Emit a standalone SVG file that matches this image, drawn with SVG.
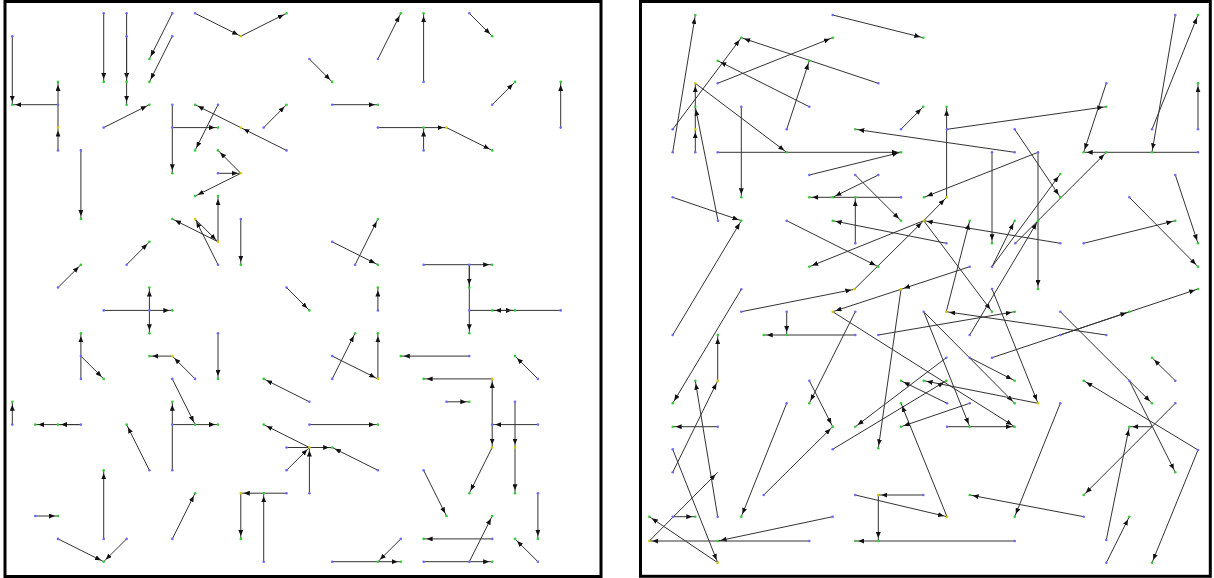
<svg xmlns="http://www.w3.org/2000/svg" width="1214" height="578" viewBox="0 0 1214 578">
<defs>
<marker id="a" viewBox="0 0 6 5" refX="9" refY="2.5" markerWidth="6" markerHeight="5" markerUnits="userSpaceOnUse" orient="auto"><path d="M0,0 L6,2.5 L0,5 z" fill="#111"/></marker>
<style>
.e{stroke:#333;stroke-width:1;fill:none;marker-end:url(#a)}
.p{stroke:#333;stroke-width:1;fill:none}
.b{fill:#6b6bff}.g{fill:#33cc33}.y{fill:#d8c800}
.frame{fill:#fff;stroke:#000;stroke-width:3}
</style>
</defs>
<rect width="1214" height="578" fill="#fff"/>
<rect id="panel-left" class="frame" x="5" y="1.5" width="596" height="575"/>
<rect id="panel-right" class="frame" x="640.5" y="1.5" width="569.8" height="574.8"/>
<g id="connectors-left">
<line class="e" x1="12.3" y1="36.2" x2="12.3" y2="104.7"/>
<line class="e" x1="58" y1="104.7" x2="12.3" y2="104.7"/>
<line class="e" x1="58" y1="104.7" x2="58" y2="81.9"/>
<line class="e" x1="58" y1="150.4" x2="58" y2="127.6"/>
<line class="p" x1="58" y1="127.6" x2="58" y2="104.7"/>
<line class="e" x1="103.7" y1="13.3" x2="103.7" y2="81.9"/>
<line class="e" x1="126.6" y1="13.3" x2="126.6" y2="81.9"/>
<line class="e" x1="126.6" y1="36.2" x2="126.6" y2="104.7"/>
<line class="e" x1="172.3" y1="13.3" x2="149.4" y2="59"/>
<line class="e" x1="172.3" y1="36.2" x2="149.4" y2="81.9"/>
<line class="e" x1="195.1" y1="13.3" x2="240.8" y2="36.2"/>
<line class="e" x1="240.8" y1="36.2" x2="286.5" y2="13.3"/>
<line class="e" x1="103.7" y1="127.6" x2="149.4" y2="104.7"/>
<line class="e" x1="172.3" y1="104.7" x2="172.3" y2="173.3"/>
<line class="e" x1="172.3" y1="127.6" x2="218" y2="127.6"/>
<line class="e" x1="218" y1="104.7" x2="195.1" y2="150.4"/>
<line class="e" x1="286.5" y1="150.4" x2="240.8" y2="127.6"/>
<line class="e" x1="240.8" y1="127.6" x2="195.1" y2="104.7"/>
<line class="e" x1="263.7" y1="127.6" x2="286.5" y2="104.7"/>
<line class="e" x1="218" y1="173.3" x2="240.8" y2="173.3"/>
<line class="e" x1="240.8" y1="173.3" x2="218" y2="150.4"/>
<line class="e" x1="240.8" y1="173.3" x2="195.1" y2="196.1"/>
<line class="e" x1="80.9" y1="150.4" x2="80.9" y2="219"/>
<line class="e" x1="309.4" y1="59" x2="332.2" y2="81.9"/>
<line class="e" x1="377.9" y1="59" x2="400.8" y2="13.3"/>
<line class="e" x1="423.6" y1="81.9" x2="423.6" y2="13.3"/>
<line class="e" x1="469.3" y1="13.3" x2="492.2" y2="36.2"/>
<line class="e" x1="332.2" y1="104.7" x2="377.9" y2="104.7"/>
<line class="e" x1="492.2" y1="104.7" x2="515" y2="81.9"/>
<line class="e" x1="560.7" y1="127.6" x2="560.7" y2="81.9"/>
<line class="e" x1="377.9" y1="127.6" x2="446.5" y2="127.6"/>
<line class="e" x1="423.6" y1="150.4" x2="423.6" y2="127.6"/>
<line class="e" x1="446.5" y1="127.6" x2="492.2" y2="150.4"/>
<line class="e" x1="218" y1="264.7" x2="195.1" y2="219"/>
<line class="e" x1="218" y1="241.8" x2="218" y2="196.1"/>
<line class="e" x1="218" y1="241.8" x2="172.3" y2="219"/>
<line class="e" x1="195.1" y1="219" x2="218" y2="241.8"/>
<line class="e" x1="240.8" y1="219" x2="240.8" y2="264.7"/>
<line class="e" x1="126.6" y1="264.7" x2="149.4" y2="241.8"/>
<line class="e" x1="58" y1="287.5" x2="80.9" y2="264.7"/>
<line class="e" x1="103.7" y1="310.4" x2="172.3" y2="310.4"/>
<line class="e" x1="149.4" y1="310.4" x2="149.4" y2="287.5"/>
<line class="e" x1="149.4" y1="310.4" x2="149.4" y2="333.2"/>
<line class="e" x1="286.5" y1="287.5" x2="309.4" y2="310.4"/>
<line class="e" x1="80.9" y1="378.9" x2="80.9" y2="333.2"/>
<line class="e" x1="80.9" y1="356.1" x2="103.7" y2="378.9"/>
<line class="e" x1="195.1" y1="378.9" x2="172.3" y2="356.1"/>
<line class="e" x1="172.3" y1="356.1" x2="149.4" y2="356.1"/>
<line class="e" x1="218" y1="333.2" x2="218" y2="378.9"/>
<line class="e" x1="172.3" y1="378.9" x2="195.1" y2="424.6"/>
<line class="e" x1="309.4" y1="401.8" x2="263.7" y2="378.9"/>
<line class="e" x1="355.1" y1="264.7" x2="377.9" y2="219"/>
<line class="e" x1="332.2" y1="241.8" x2="377.9" y2="264.7"/>
<line class="e" x1="377.9" y1="310.4" x2="377.9" y2="287.5"/>
<line class="e" x1="423.6" y1="264.7" x2="492.2" y2="264.7"/>
<line class="e" x1="469.3" y1="264.7" x2="469.3" y2="333.2"/>
<line class="e" x1="469.3" y1="264.7" x2="469.3" y2="287.5"/>
<line class="e" x1="469.3" y1="310.4" x2="515" y2="310.4"/>
<line class="e" x1="560.7" y1="310.4" x2="492.2" y2="310.4"/>
<line class="e" x1="332.2" y1="356.1" x2="377.9" y2="378.9"/>
<line class="e" x1="332.2" y1="378.9" x2="355.1" y2="333.2"/>
<line class="e" x1="377.9" y1="378.9" x2="377.9" y2="333.2"/>
<line class="e" x1="469.3" y1="356.1" x2="400.8" y2="356.1"/>
<line class="e" x1="537.9" y1="378.9" x2="515" y2="356.1"/>
<line class="e" x1="492.2" y1="378.9" x2="423.6" y2="378.9"/>
<line class="e" x1="492.2" y1="424.6" x2="492.2" y2="378.9"/>
<line class="e" x1="492.2" y1="424.6" x2="492.2" y2="447.5"/>
<line class="e" x1="492.2" y1="447.5" x2="469.3" y2="493.2"/>
<line class="e" x1="537.9" y1="424.6" x2="492.2" y2="424.6"/>
<line class="e" x1="515" y1="401.8" x2="515" y2="447.5"/>
<line class="e" x1="515" y1="447.5" x2="515" y2="493.2"/>
<line class="e" x1="12.3" y1="424.6" x2="12.3" y2="401.8"/>
<line class="e" x1="80.9" y1="424.6" x2="35.2" y2="424.6"/>
<line class="e" x1="80.9" y1="424.6" x2="58" y2="424.6"/>
<line class="e" x1="149.4" y1="470.3" x2="126.6" y2="424.6"/>
<line class="e" x1="172.3" y1="470.3" x2="172.3" y2="401.8"/>
<line class="e" x1="172.3" y1="424.6" x2="218" y2="424.6"/>
<line class="e" x1="309.4" y1="447.5" x2="263.7" y2="424.6"/>
<line class="e" x1="286.5" y1="447.5" x2="332.2" y2="447.5"/>
<line class="e" x1="286.5" y1="470.3" x2="309.4" y2="447.5"/>
<line class="e" x1="309.4" y1="493.2" x2="309.4" y2="447.5"/>
<line class="e" x1="377.9" y1="470.3" x2="332.2" y2="447.5"/>
<line class="e" x1="35.2" y1="516" x2="58" y2="516"/>
<line class="e" x1="103.7" y1="538.9" x2="103.7" y2="470.3"/>
<line class="e" x1="58" y1="538.9" x2="103.7" y2="561.7"/>
<line class="e" x1="126.6" y1="538.9" x2="103.7" y2="561.7"/>
<line class="e" x1="172.3" y1="538.9" x2="195.1" y2="493.2"/>
<line class="e" x1="286.5" y1="493.2" x2="240.8" y2="493.2"/>
<line class="e" x1="240.8" y1="493.2" x2="240.8" y2="538.9"/>
<line class="e" x1="263.7" y1="561.7" x2="263.7" y2="493.2"/>
<line class="e" x1="309.4" y1="424.6" x2="377.9" y2="424.6"/>
<line class="e" x1="446.5" y1="401.8" x2="469.3" y2="401.8"/>
<line class="e" x1="423.6" y1="470.3" x2="446.5" y2="516"/>
<line class="e" x1="537.9" y1="493.2" x2="537.9" y2="538.9"/>
<line class="e" x1="492.2" y1="538.9" x2="423.6" y2="538.9"/>
<line class="e" x1="423.6" y1="561.7" x2="492.2" y2="561.7"/>
<line class="e" x1="469.3" y1="561.7" x2="492.2" y2="516"/>
<line class="e" x1="537.9" y1="561.7" x2="515" y2="538.9"/>
<line class="e" x1="332.2" y1="561.7" x2="400.8" y2="561.7"/>
<line class="e" x1="400.8" y1="538.9" x2="377.9" y2="561.7"/>
</g>
<g id="connectors-right">
<line class="e" x1="672.7" y1="152.3" x2="695.3" y2="15"/>
<line class="e" x1="672.7" y1="129.3" x2="741.3" y2="37.7"/>
<line class="e" x1="878.3" y1="83.3" x2="741.3" y2="37.7"/>
<line class="e" x1="717.7" y1="83.3" x2="832.7" y2="37.7"/>
<line class="e" x1="832.7" y1="15" x2="923.3" y2="37.7"/>
<line class="e" x1="809.3" y1="106.7" x2="717.7" y2="60.7"/>
<line class="e" x1="786.7" y1="129.3" x2="809.3" y2="60.7"/>
<line class="e" x1="695.3" y1="152.3" x2="695.3" y2="129.3"/>
<line class="e" x1="695.3" y1="129.3" x2="695.3" y2="83.3"/>
<line class="e" x1="695.3" y1="83.3" x2="786.7" y2="152.3"/>
<line class="e" x1="718" y1="220.7" x2="695.3" y2="106.7"/>
<line class="e" x1="741.3" y1="106.7" x2="741.3" y2="197.3"/>
<line class="e" x1="717.7" y1="152.3" x2="901" y2="152.3"/>
<line class="e" x1="809.3" y1="175" x2="901" y2="152.3"/>
<line class="e" x1="901" y1="129.3" x2="923.3" y2="106.7"/>
<line class="e" x1="1014.7" y1="152.3" x2="855.3" y2="129.3"/>
<line class="e" x1="878.3" y1="175" x2="832.7" y2="197.3"/>
<line class="e" x1="855.3" y1="175" x2="901" y2="220.7"/>
<line class="e" x1="1175.3" y1="15" x2="1152" y2="152.3"/>
<line class="e" x1="1152" y1="129.3" x2="1198" y2="15"/>
<line class="e" x1="1198" y1="129.3" x2="1198" y2="83.3"/>
<line class="e" x1="1106.3" y1="83.3" x2="1083.7" y2="152.3"/>
<line class="e" x1="1198" y1="152.3" x2="1083.7" y2="152.3"/>
<line class="e" x1="947" y1="129.3" x2="1106.3" y2="106.7"/>
<line class="e" x1="946.6" y1="197.3" x2="946.6" y2="106.7"/>
<line class="e" x1="992" y1="152.3" x2="992" y2="243.3"/>
<line class="e" x1="1038" y1="152.3" x2="1038" y2="289"/>
<line class="e" x1="1014.7" y1="129.3" x2="1060.3" y2="197.3"/>
<line class="e" x1="1038" y1="152.3" x2="924" y2="197.3"/>
<line class="e" x1="992" y1="266.7" x2="1060.3" y2="174"/>
<line class="e" x1="1015.3" y1="243.3" x2="1106.3" y2="152.3"/>
<line class="e" x1="1175.3" y1="175" x2="1198" y2="243.3"/>
<line class="e" x1="672.7" y1="197.3" x2="741.3" y2="220.7"/>
<line class="e" x1="672.7" y1="335" x2="741.3" y2="220.7"/>
<line class="e" x1="901" y1="197.3" x2="809.3" y2="197.3"/>
<line class="e" x1="855.3" y1="243.3" x2="855.3" y2="197.3"/>
<line class="e" x1="786.7" y1="220.7" x2="878.3" y2="266.7"/>
<line class="e" x1="946.3" y1="243.3" x2="832.7" y2="220.7"/>
<line class="e" x1="923.7" y1="220.7" x2="809.3" y2="266.7"/>
<line class="e" x1="741.3" y1="311.7" x2="854.3" y2="289.3"/>
<line class="e" x1="854.3" y1="289.3" x2="923.7" y2="220.7"/>
<line class="e" x1="923.7" y1="220.7" x2="946.6" y2="197.3"/>
<line class="e" x1="1060.3" y1="243.3" x2="923.7" y2="220.7"/>
<line class="e" x1="923.7" y1="220.7" x2="992" y2="311.7"/>
<line class="e" x1="946.3" y1="311.7" x2="969.7" y2="220.7"/>
<line class="e" x1="1106.3" y1="335" x2="946.3" y2="311.7"/>
<line class="e" x1="992" y1="266.7" x2="1014.7" y2="220.7"/>
<line class="e" x1="969.7" y1="335" x2="1038" y2="220.7"/>
<line class="e" x1="1083.7" y1="243.3" x2="1175.3" y2="220.7"/>
<line class="e" x1="1129.3" y1="197.3" x2="1198" y2="266.7"/>
<line class="e" x1="992" y1="357.7" x2="1198" y2="289"/>
<line class="e" x1="1060.3" y1="335" x2="1129.3" y2="311.7"/>
<line class="e" x1="1060.3" y1="311.7" x2="1152" y2="403.3"/>
<line class="e" x1="1175.3" y1="380.7" x2="1152" y2="357.7"/>
<line class="e" x1="969.7" y1="357.7" x2="1014.7" y2="380.7"/>
<line class="e" x1="1198" y1="450" x2="1083.7" y2="380.7"/>
<line class="e" x1="969.7" y1="266.7" x2="901" y2="289.3"/>
<line class="e" x1="901" y1="289.3" x2="832.7" y2="311.7"/>
<line class="e" x1="901" y1="289.3" x2="878.3" y2="448.3"/>
<line class="e" x1="741.3" y1="289.3" x2="672.7" y2="403.3"/>
<line class="e" x1="786.7" y1="311.7" x2="786.7" y2="335"/>
<line class="e" x1="855.3" y1="335" x2="763.7" y2="335"/>
<line class="e" x1="717.7" y1="380.7" x2="717.7" y2="335"/>
<line class="e" x1="717.7" y1="516.7" x2="695.3" y2="380.7"/>
<line class="e" x1="855.3" y1="311.7" x2="809.3" y2="403.3"/>
<line class="e" x1="878.3" y1="335" x2="1014.7" y2="311.7"/>
<line class="e" x1="832.7" y1="311.7" x2="1014.7" y2="426.7"/>
<line class="e" x1="672.7" y1="472.3" x2="717.7" y2="380.7"/>
<line class="e" x1="717.7" y1="426.7" x2="672.7" y2="426.7"/>
<line class="e" x1="672.7" y1="449.3" x2="717.7" y2="562.7"/>
<line class="e" x1="717.7" y1="562.7" x2="649.3" y2="516.7"/>
<line class="e" x1="649.3" y1="541" x2="717.7" y2="472.3"/>
<line class="e" x1="832.7" y1="516.7" x2="717.7" y2="541"/>
<line class="e" x1="809.3" y1="541" x2="649.3" y2="541"/>
<line class="e" x1="672.7" y1="516.7" x2="695.3" y2="516.7"/>
<line class="e" x1="786.7" y1="403.3" x2="741.3" y2="516.7"/>
<line class="e" x1="763.7" y1="495" x2="832.7" y2="426.7"/>
<line class="e" x1="809.3" y1="380.7" x2="832.7" y2="426.7"/>
<line class="e" x1="832.7" y1="449.3" x2="946.3" y2="380.7"/>
<line class="e" x1="946.3" y1="357.7" x2="855.3" y2="426.7"/>
<line class="e" x1="923.3" y1="495" x2="878.3" y2="495"/>
<line class="e" x1="878.3" y1="495" x2="878.3" y2="541"/>
<line class="e" x1="1014.7" y1="541" x2="855.3" y2="541"/>
<line class="e" x1="855.3" y1="495" x2="947" y2="516.7"/>
<line class="e" x1="947" y1="516.7" x2="901" y2="403.3"/>
<line class="e" x1="923.7" y1="311.7" x2="1014.7" y2="403.3"/>
<line class="e" x1="923.7" y1="311.7" x2="969.7" y2="426.7"/>
<line class="e" x1="947" y1="403.3" x2="901" y2="380.7"/>
<line class="e" x1="969.7" y1="403.3" x2="901" y2="426.7"/>
<line class="e" x1="992" y1="289" x2="1038" y2="403.3"/>
<line class="e" x1="1038" y1="403.3" x2="923.7" y2="380.7"/>
<line class="e" x1="947" y1="426.7" x2="1014.7" y2="426.7"/>
<line class="e" x1="1060.3" y1="403.3" x2="1014.7" y2="516.7"/>
<line class="e" x1="1083.7" y1="516.7" x2="969.7" y2="495"/>
<line class="e" x1="1198" y1="450" x2="1152" y2="562.7"/>
<line class="e" x1="1175.3" y1="403.3" x2="1083.7" y2="495"/>
<line class="e" x1="1129.3" y1="380.7" x2="1175.3" y2="472.3"/>
<line class="e" x1="1152" y1="426.7" x2="1129.3" y2="426.7"/>
<line class="e" x1="1106.3" y1="540" x2="1129.3" y2="426.7"/>
<line class="e" x1="1106.3" y1="562.7" x2="1129.3" y2="516.7"/>
</g>
<g id="nodes-left">
<circle class="b" cx="12.3" cy="36.2" r="1.3"/><circle class="b" cx="58" cy="104.7" r="1.3"/><circle class="b" cx="58" cy="150.4" r="1.3"/><circle class="b" cx="103.7" cy="13.3" r="1.3"/><circle class="b" cx="126.6" cy="13.3" r="1.3"/><circle class="b" cx="126.6" cy="36.2" r="1.3"/><circle class="b" cx="172.3" cy="13.3" r="1.3"/><circle class="b" cx="172.3" cy="36.2" r="1.3"/><circle class="b" cx="195.1" cy="13.3" r="1.3"/><circle class="b" cx="103.7" cy="127.6" r="1.3"/><circle class="b" cx="172.3" cy="104.7" r="1.3"/><circle class="b" cx="172.3" cy="127.6" r="1.3"/><circle class="b" cx="218" cy="104.7" r="1.3"/><circle class="b" cx="286.5" cy="150.4" r="1.3"/><circle class="b" cx="263.7" cy="127.6" r="1.3"/><circle class="b" cx="218" cy="173.3" r="1.3"/><circle class="b" cx="80.9" cy="150.4" r="1.3"/><circle class="b" cx="309.4" cy="59" r="1.3"/><circle class="b" cx="377.9" cy="59" r="1.3"/><circle class="b" cx="423.6" cy="81.9" r="1.3"/><circle class="b" cx="469.3" cy="13.3" r="1.3"/><circle class="b" cx="332.2" cy="104.7" r="1.3"/><circle class="b" cx="492.2" cy="104.7" r="1.3"/><circle class="b" cx="560.7" cy="127.6" r="1.3"/><circle class="b" cx="377.9" cy="127.6" r="1.3"/><circle class="b" cx="423.6" cy="150.4" r="1.3"/><circle class="b" cx="218" cy="264.7" r="1.3"/><circle class="b" cx="240.8" cy="219" r="1.3"/><circle class="b" cx="126.6" cy="264.7" r="1.3"/><circle class="b" cx="58" cy="287.5" r="1.3"/><circle class="b" cx="103.7" cy="310.4" r="1.3"/><circle class="b" cx="149.4" cy="310.4" r="1.3"/><circle class="b" cx="286.5" cy="287.5" r="1.3"/><circle class="b" cx="80.9" cy="378.9" r="1.3"/><circle class="b" cx="80.9" cy="356.1" r="1.3"/><circle class="b" cx="195.1" cy="378.9" r="1.3"/><circle class="b" cx="218" cy="333.2" r="1.3"/><circle class="b" cx="172.3" cy="378.9" r="1.3"/><circle class="b" cx="309.4" cy="401.8" r="1.3"/><circle class="b" cx="355.1" cy="264.7" r="1.3"/><circle class="b" cx="332.2" cy="241.8" r="1.3"/><circle class="b" cx="377.9" cy="310.4" r="1.3"/><circle class="b" cx="423.6" cy="264.7" r="1.3"/><circle class="b" cx="469.3" cy="264.7" r="1.3"/><circle class="b" cx="469.3" cy="310.4" r="1.3"/><circle class="b" cx="560.7" cy="310.4" r="1.3"/><circle class="b" cx="332.2" cy="356.1" r="1.3"/><circle class="b" cx="332.2" cy="378.9" r="1.3"/><circle class="b" cx="469.3" cy="356.1" r="1.3"/><circle class="b" cx="537.9" cy="378.9" r="1.3"/><circle class="b" cx="492.2" cy="424.6" r="1.3"/><circle class="b" cx="537.9" cy="424.6" r="1.3"/><circle class="b" cx="515" cy="401.8" r="1.3"/><circle class="b" cx="12.3" cy="424.6" r="1.3"/><circle class="b" cx="80.9" cy="424.6" r="1.3"/><circle class="b" cx="149.4" cy="470.3" r="1.3"/><circle class="b" cx="172.3" cy="470.3" r="1.3"/><circle class="b" cx="172.3" cy="424.6" r="1.3"/><circle class="b" cx="286.5" cy="447.5" r="1.3"/><circle class="b" cx="286.5" cy="470.3" r="1.3"/><circle class="b" cx="309.4" cy="493.2" r="1.3"/><circle class="b" cx="377.9" cy="470.3" r="1.3"/><circle class="b" cx="35.2" cy="516" r="1.3"/><circle class="b" cx="103.7" cy="538.9" r="1.3"/><circle class="b" cx="58" cy="538.9" r="1.3"/><circle class="b" cx="126.6" cy="538.9" r="1.3"/><circle class="b" cx="172.3" cy="538.9" r="1.3"/><circle class="b" cx="286.5" cy="493.2" r="1.3"/><circle class="b" cx="263.7" cy="561.7" r="1.3"/><circle class="b" cx="309.4" cy="424.6" r="1.3"/><circle class="b" cx="446.5" cy="401.8" r="1.3"/><circle class="b" cx="423.6" cy="470.3" r="1.3"/><circle class="b" cx="537.9" cy="493.2" r="1.3"/><circle class="b" cx="492.2" cy="538.9" r="1.3"/><circle class="b" cx="423.6" cy="561.7" r="1.3"/><circle class="b" cx="469.3" cy="561.7" r="1.3"/><circle class="b" cx="537.9" cy="561.7" r="1.3"/><circle class="b" cx="332.2" cy="561.7" r="1.3"/><circle class="b" cx="400.8" cy="538.9" r="1.3"/>
<circle class="g" cx="12.3" cy="104.7" r="1.3"/><circle class="g" cx="58" cy="81.9" r="1.3"/><circle class="g" cx="103.7" cy="81.9" r="1.3"/><circle class="g" cx="126.6" cy="81.9" r="1.3"/><circle class="g" cx="126.6" cy="104.7" r="1.3"/><circle class="g" cx="149.4" cy="59" r="1.3"/><circle class="g" cx="149.4" cy="81.9" r="1.3"/><circle class="g" cx="286.5" cy="13.3" r="1.3"/><circle class="g" cx="149.4" cy="104.7" r="1.3"/><circle class="g" cx="172.3" cy="173.3" r="1.3"/><circle class="g" cx="218" cy="127.6" r="1.3"/><circle class="g" cx="195.1" cy="150.4" r="1.3"/><circle class="g" cx="195.1" cy="104.7" r="1.3"/><circle class="g" cx="286.5" cy="104.7" r="1.3"/><circle class="g" cx="218" cy="150.4" r="1.3"/><circle class="g" cx="195.1" cy="196.1" r="1.3"/><circle class="g" cx="80.9" cy="219" r="1.3"/><circle class="g" cx="332.2" cy="81.9" r="1.3"/><circle class="g" cx="400.8" cy="13.3" r="1.3"/><circle class="g" cx="423.6" cy="13.3" r="1.3"/><circle class="g" cx="492.2" cy="36.2" r="1.3"/><circle class="g" cx="377.9" cy="104.7" r="1.3"/><circle class="g" cx="515" cy="81.9" r="1.3"/><circle class="g" cx="560.7" cy="81.9" r="1.3"/><circle class="g" cx="423.6" cy="127.6" r="1.3"/><circle class="g" cx="492.2" cy="150.4" r="1.3"/><circle class="g" cx="218" cy="196.1" r="1.3"/><circle class="g" cx="172.3" cy="219" r="1.3"/><circle class="g" cx="240.8" cy="264.7" r="1.3"/><circle class="g" cx="149.4" cy="241.8" r="1.3"/><circle class="g" cx="80.9" cy="264.7" r="1.3"/><circle class="g" cx="172.3" cy="310.4" r="1.3"/><circle class="g" cx="149.4" cy="287.5" r="1.3"/><circle class="g" cx="149.4" cy="333.2" r="1.3"/><circle class="g" cx="309.4" cy="310.4" r="1.3"/><circle class="g" cx="80.9" cy="333.2" r="1.3"/><circle class="g" cx="103.7" cy="378.9" r="1.3"/><circle class="g" cx="149.4" cy="356.1" r="1.3"/><circle class="g" cx="218" cy="378.9" r="1.3"/><circle class="g" cx="195.1" cy="424.6" r="1.3"/><circle class="g" cx="263.7" cy="378.9" r="1.3"/><circle class="g" cx="377.9" cy="219" r="1.3"/><circle class="g" cx="377.9" cy="264.7" r="1.3"/><circle class="g" cx="377.9" cy="287.5" r="1.3"/><circle class="g" cx="492.2" cy="264.7" r="1.3"/><circle class="g" cx="469.3" cy="333.2" r="1.3"/><circle class="g" cx="469.3" cy="287.5" r="1.3"/><circle class="g" cx="515" cy="310.4" r="1.3"/><circle class="g" cx="492.2" cy="310.4" r="1.3"/><circle class="g" cx="355.1" cy="333.2" r="1.3"/><circle class="g" cx="377.9" cy="333.2" r="1.3"/><circle class="g" cx="400.8" cy="356.1" r="1.3"/><circle class="g" cx="515" cy="356.1" r="1.3"/><circle class="g" cx="423.6" cy="378.9" r="1.3"/><circle class="g" cx="469.3" cy="493.2" r="1.3"/><circle class="g" cx="515" cy="493.2" r="1.3"/><circle class="g" cx="12.3" cy="401.8" r="1.3"/><circle class="g" cx="35.2" cy="424.6" r="1.3"/><circle class="g" cx="58" cy="424.6" r="1.3"/><circle class="g" cx="126.6" cy="424.6" r="1.3"/><circle class="g" cx="172.3" cy="401.8" r="1.3"/><circle class="g" cx="218" cy="424.6" r="1.3"/><circle class="g" cx="263.7" cy="424.6" r="1.3"/><circle class="g" cx="332.2" cy="447.5" r="1.3"/><circle class="g" cx="58" cy="516" r="1.3"/><circle class="g" cx="103.7" cy="470.3" r="1.3"/><circle class="g" cx="103.7" cy="561.7" r="1.3"/><circle class="g" cx="195.1" cy="493.2" r="1.3"/><circle class="g" cx="240.8" cy="538.9" r="1.3"/><circle class="g" cx="263.7" cy="493.2" r="1.3"/><circle class="g" cx="377.9" cy="424.6" r="1.3"/><circle class="g" cx="469.3" cy="401.8" r="1.3"/><circle class="g" cx="446.5" cy="516" r="1.3"/><circle class="g" cx="537.9" cy="538.9" r="1.3"/><circle class="g" cx="423.6" cy="538.9" r="1.3"/><circle class="g" cx="492.2" cy="561.7" r="1.3"/><circle class="g" cx="492.2" cy="516" r="1.3"/><circle class="g" cx="515" cy="538.9" r="1.3"/><circle class="g" cx="400.8" cy="561.7" r="1.3"/><circle class="g" cx="377.9" cy="561.7" r="1.3"/>
<circle class="y" cx="58" cy="127.6" r="1.3"/><circle class="y" cx="240.8" cy="36.2" r="1.3"/><circle class="y" cx="240.8" cy="127.6" r="1.3"/><circle class="y" cx="240.8" cy="173.3" r="1.3"/><circle class="y" cx="195.1" cy="219" r="1.3"/><circle class="y" cx="218" cy="241.8" r="1.3"/><circle class="y" cx="172.3" cy="356.1" r="1.3"/><circle class="y" cx="446.5" cy="127.6" r="1.3"/><circle class="y" cx="377.9" cy="378.9" r="1.3"/><circle class="y" cx="492.2" cy="378.9" r="1.3"/><circle class="y" cx="492.2" cy="447.5" r="1.3"/><circle class="y" cx="515" cy="447.5" r="1.3"/><circle class="y" cx="309.4" cy="447.5" r="1.3"/><circle class="y" cx="240.8" cy="493.2" r="1.3"/>
</g>
<g id="nodes-right">
<circle class="b" cx="672.7" cy="152.3" r="1.3"/><circle class="b" cx="672.7" cy="129.3" r="1.3"/><circle class="b" cx="878.3" cy="83.3" r="1.3"/><circle class="b" cx="717.7" cy="83.3" r="1.3"/><circle class="b" cx="832.7" cy="15" r="1.3"/><circle class="b" cx="809.3" cy="106.7" r="1.3"/><circle class="b" cx="786.7" cy="129.3" r="1.3"/><circle class="b" cx="695.3" cy="152.3" r="1.3"/><circle class="b" cx="718" cy="220.7" r="1.3"/><circle class="b" cx="741.3" cy="106.7" r="1.3"/><circle class="b" cx="717.7" cy="152.3" r="1.3"/><circle class="b" cx="809.3" cy="175" r="1.3"/><circle class="b" cx="901" cy="129.3" r="1.3"/><circle class="b" cx="1014.7" cy="152.3" r="1.3"/><circle class="b" cx="878.3" cy="175" r="1.3"/><circle class="b" cx="855.3" cy="175" r="1.3"/><circle class="b" cx="1175.3" cy="15" r="1.3"/><circle class="b" cx="1152" cy="129.3" r="1.3"/><circle class="b" cx="1198" cy="129.3" r="1.3"/><circle class="b" cx="1106.3" cy="83.3" r="1.3"/><circle class="b" cx="1198" cy="152.3" r="1.3"/><circle class="b" cx="947" cy="129.3" r="1.3"/><circle class="b" cx="992" cy="152.3" r="1.3"/><circle class="b" cx="1038" cy="152.3" r="1.3"/><circle class="b" cx="1014.7" cy="129.3" r="1.3"/><circle class="b" cx="992" cy="266.7" r="1.3"/><circle class="b" cx="1015.3" cy="243.3" r="1.3"/><circle class="b" cx="1175.3" cy="175" r="1.3"/><circle class="b" cx="672.7" cy="197.3" r="1.3"/><circle class="b" cx="672.7" cy="335" r="1.3"/><circle class="b" cx="901" cy="197.3" r="1.3"/><circle class="b" cx="855.3" cy="243.3" r="1.3"/><circle class="b" cx="786.7" cy="220.7" r="1.3"/><circle class="b" cx="946.3" cy="243.3" r="1.3"/><circle class="b" cx="741.3" cy="311.7" r="1.3"/><circle class="b" cx="1060.3" cy="243.3" r="1.3"/><circle class="b" cx="1106.3" cy="335" r="1.3"/><circle class="b" cx="969.7" cy="335" r="1.3"/><circle class="b" cx="1083.7" cy="243.3" r="1.3"/><circle class="b" cx="1129.3" cy="197.3" r="1.3"/><circle class="b" cx="992" cy="357.7" r="1.3"/><circle class="b" cx="1060.3" cy="335" r="1.3"/><circle class="b" cx="1060.3" cy="311.7" r="1.3"/><circle class="b" cx="1175.3" cy="380.7" r="1.3"/><circle class="b" cx="969.7" cy="357.7" r="1.3"/><circle class="b" cx="1198" cy="450" r="1.3"/><circle class="b" cx="969.7" cy="266.7" r="1.3"/><circle class="b" cx="741.3" cy="289.3" r="1.3"/><circle class="b" cx="786.7" cy="311.7" r="1.3"/><circle class="b" cx="855.3" cy="335" r="1.3"/><circle class="b" cx="855.3" cy="311.7" r="1.3"/><circle class="b" cx="878.3" cy="335" r="1.3"/><circle class="b" cx="672.7" cy="472.3" r="1.3"/><circle class="b" cx="717.7" cy="426.7" r="1.3"/><circle class="b" cx="672.7" cy="449.3" r="1.3"/><circle class="b" cx="832.7" cy="516.7" r="1.3"/><circle class="b" cx="809.3" cy="541" r="1.3"/><circle class="b" cx="672.7" cy="516.7" r="1.3"/><circle class="b" cx="786.7" cy="403.3" r="1.3"/><circle class="b" cx="763.7" cy="495" r="1.3"/><circle class="b" cx="809.3" cy="380.7" r="1.3"/><circle class="b" cx="832.7" cy="449.3" r="1.3"/><circle class="b" cx="946.3" cy="357.7" r="1.3"/><circle class="b" cx="923.3" cy="495" r="1.3"/><circle class="b" cx="1014.7" cy="541" r="1.3"/><circle class="b" cx="855.3" cy="495" r="1.3"/><circle class="b" cx="923.7" cy="311.7" r="1.3"/><circle class="b" cx="969.7" cy="403.3" r="1.3"/><circle class="b" cx="947" cy="403.3" r="1.3"/><circle class="b" cx="992" cy="289" r="1.3"/><circle class="b" cx="947" cy="426.7" r="1.3"/><circle class="b" cx="1060.3" cy="403.3" r="1.3"/><circle class="b" cx="1083.7" cy="516.7" r="1.3"/><circle class="b" cx="1175.3" cy="403.3" r="1.3"/><circle class="b" cx="1129.3" cy="380.7" r="1.3"/><circle class="b" cx="1106.3" cy="540" r="1.3"/><circle class="b" cx="1106.3" cy="562.7" r="1.3"/><circle class="b" cx="717.7" cy="516.7" r="1.3"/>
<circle class="g" cx="695.3" cy="15" r="1.3"/><circle class="g" cx="741.3" cy="37.7" r="1.3"/><circle class="g" cx="832.7" cy="37.7" r="1.3"/><circle class="g" cx="923.3" cy="37.7" r="1.3"/><circle class="g" cx="717.7" cy="60.7" r="1.3"/><circle class="g" cx="809.3" cy="60.7" r="1.3"/><circle class="g" cx="786.7" cy="152.3" r="1.3"/><circle class="g" cx="695.3" cy="106.7" r="1.3"/><circle class="g" cx="741.3" cy="197.3" r="1.3"/><circle class="g" cx="901" cy="152.3" r="1.3"/><circle class="g" cx="923.3" cy="106.7" r="1.3"/><circle class="g" cx="855.3" cy="129.3" r="1.3"/><circle class="g" cx="832.7" cy="197.3" r="1.3"/><circle class="g" cx="901" cy="220.7" r="1.3"/><circle class="g" cx="1152" cy="152.3" r="1.3"/><circle class="g" cx="1198" cy="15" r="1.3"/><circle class="g" cx="1198" cy="83.3" r="1.3"/><circle class="g" cx="1083.7" cy="152.3" r="1.3"/><circle class="g" cx="1106.3" cy="106.7" r="1.3"/><circle class="g" cx="946.6" cy="106.7" r="1.3"/><circle class="g" cx="992" cy="243.3" r="1.3"/><circle class="g" cx="1038" cy="289" r="1.3"/><circle class="g" cx="1060.3" cy="197.3" r="1.3"/><circle class="g" cx="924" cy="197.3" r="1.3"/><circle class="g" cx="1060.3" cy="174" r="1.3"/><circle class="g" cx="1106.3" cy="152.3" r="1.3"/><circle class="g" cx="1198" cy="243.3" r="1.3"/><circle class="g" cx="741.3" cy="220.7" r="1.3"/><circle class="g" cx="809.3" cy="197.3" r="1.3"/><circle class="g" cx="855.3" cy="197.3" r="1.3"/><circle class="g" cx="878.3" cy="266.7" r="1.3"/><circle class="g" cx="832.7" cy="220.7" r="1.3"/><circle class="g" cx="809.3" cy="266.7" r="1.3"/><circle class="g" cx="992" cy="311.7" r="1.3"/><circle class="g" cx="969.7" cy="220.7" r="1.3"/><circle class="g" cx="1014.7" cy="220.7" r="1.3"/><circle class="g" cx="1038" cy="220.7" r="1.3"/><circle class="g" cx="1175.3" cy="220.7" r="1.3"/><circle class="g" cx="1198" cy="266.7" r="1.3"/><circle class="g" cx="1198" cy="289" r="1.3"/><circle class="g" cx="1129.3" cy="311.7" r="1.3"/><circle class="g" cx="1152" cy="403.3" r="1.3"/><circle class="g" cx="1152" cy="357.7" r="1.3"/><circle class="g" cx="1014.7" cy="380.7" r="1.3"/><circle class="g" cx="1083.7" cy="380.7" r="1.3"/><circle class="g" cx="878.3" cy="448.3" r="1.3"/><circle class="g" cx="672.7" cy="403.3" r="1.3"/><circle class="g" cx="786.7" cy="335" r="1.3"/><circle class="g" cx="763.7" cy="335" r="1.3"/><circle class="g" cx="717.7" cy="335" r="1.3"/><circle class="g" cx="695.3" cy="380.7" r="1.3"/><circle class="g" cx="809.3" cy="403.3" r="1.3"/><circle class="g" cx="1014.7" cy="311.7" r="1.3"/><circle class="g" cx="672.7" cy="426.7" r="1.3"/><circle class="g" cx="717.7" cy="541" r="1.3"/><circle class="g" cx="695.3" cy="516.7" r="1.3"/><circle class="g" cx="741.3" cy="516.7" r="1.3"/><circle class="g" cx="832.7" cy="426.7" r="1.3"/><circle class="g" cx="946.3" cy="380.7" r="1.3"/><circle class="g" cx="855.3" cy="426.7" r="1.3"/><circle class="g" cx="878.3" cy="541" r="1.3"/><circle class="g" cx="855.3" cy="541" r="1.3"/><circle class="g" cx="901" cy="403.3" r="1.3"/><circle class="g" cx="1014.7" cy="403.3" r="1.3"/><circle class="g" cx="969.7" cy="426.7" r="1.3"/><circle class="g" cx="901" cy="380.7" r="1.3"/><circle class="g" cx="901" cy="426.7" r="1.3"/><circle class="g" cx="923.7" cy="380.7" r="1.3"/><circle class="g" cx="1014.7" cy="426.7" r="1.3"/><circle class="g" cx="1014.7" cy="516.7" r="1.3"/><circle class="g" cx="969.7" cy="495" r="1.3"/><circle class="g" cx="1152" cy="562.7" r="1.3"/><circle class="g" cx="1083.7" cy="495" r="1.3"/><circle class="g" cx="1175.3" cy="472.3" r="1.3"/><circle class="g" cx="1129.3" cy="426.7" r="1.3"/><circle class="g" cx="1129.3" cy="516.7" r="1.3"/><circle class="g" cx="649.3" cy="516.7" r="1.3"/>
<circle class="y" cx="695.3" cy="129.3" r="1.3"/><circle class="y" cx="695.3" cy="83.3" r="1.3"/><circle class="y" cx="854.3" cy="289.3" r="1.3"/><circle class="y" cx="923.7" cy="220.7" r="1.3"/><circle class="y" cx="946.6" cy="197.3" r="1.3"/><circle class="y" cx="946.3" cy="311.7" r="1.3"/><circle class="y" cx="901" cy="289.3" r="1.3"/><circle class="y" cx="832.7" cy="311.7" r="1.3"/><circle class="y" cx="717.7" cy="380.7" r="1.3"/><circle class="y" cx="717.7" cy="562.7" r="1.3"/><circle class="y" cx="649.3" cy="541" r="1.3"/><circle class="y" cx="878.3" cy="495" r="1.3"/><circle class="y" cx="947" cy="516.7" r="1.3"/><circle class="y" cx="1038" cy="403.3" r="1.3"/>
</g>
</svg>
